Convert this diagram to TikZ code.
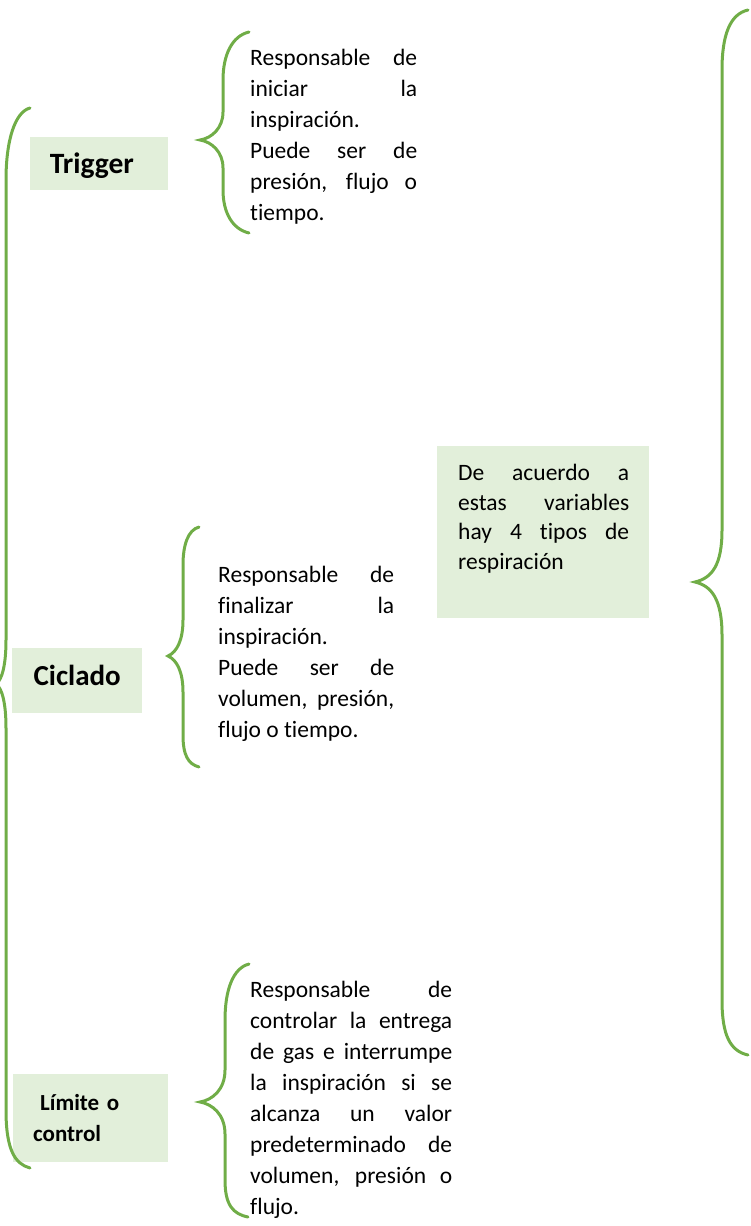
\documentclass[tikz,border=0pt]{standalone}
\usepackage{fontspec}
\setmainfont{Carlito}[Ligatures=NoCommon]
\usepackage{xcolor}
\usepackage{tikz}
\usetikzlibrary{positioning}

\definecolor{bracegreen}{HTML}{70AD47}
\definecolor{boxgreen}{HTML}{E2EFDA}
\setlength{\parindent}{0pt}

\begin{document}
\begin{tikzpicture}[
    x=1pt, y=-1pt,
    curly/.style={draw=bracegreen, line width=3pt, line cap=round},
    label/.style={fill=boxgreen, inner sep=0pt, font=\bfseries},
    desc/.style={inner sep=0pt, align=justify, font=\fontsize{23.5}{31}\selectfont},
    notebg/.style={fill=boxgreen, inner sep=0pt, anchor=north west}
]
\useasboundingbox (0,0) rectangle (751,1226);

% Variables
\node[label, minimum width=138pt, minimum height=53pt, anchor=north west,
      text height=20pt, text depth=1pt,
      font=\bfseries\fontsize{29.5}{31}\selectfont] (trigger) at (30,137) {Trigger\rule{14.6pt}{0pt}};
\node[label, minimum width=130pt, minimum height=65pt, anchor=north west,
      text height=14pt, text depth=5pt,
      font=\bfseries\fontsize{29}{31}\selectfont] (ciclado) at (12,648) {Ciclado};
\node[label, minimum width=155pt, minimum height=88pt, anchor=north west, inner xsep=20pt,
      text width=115pt, align=left,
      font=\bfseries\fontsize{23}{31}\selectfont] (limite) at (13,1074) {\hspace*{7pt}Límite o\\control};

% Descriptions
\node[desc, text width=167pt, anchor=north west] (trigdesc) at (250,49)
  {Responsable de\linebreak iniciar la\linebreak inspiración.\par
   Puede ser de\linebreak presión, flujo o\linebreak tiempo.};
\node[desc, text width=176pt, anchor=north west] (cicldesc) at (218,566)
  {Responsable de\linebreak finalizar la\linebreak inspiración.\par
   Puede ser de\linebreak volumen, presión,\linebreak flujo o tiempo.};
\node[desc, text width=202pt, anchor=north west] (limdesc) at (250,981)
  {Responsable de\linebreak controlar la entrega\linebreak de gas e interrumpe\linebreak
   la inspiración si se\linebreak alcanza un valor\linebreak predeterminado de\linebreak
   volumen, presión o\linebreak flujo.};

% Note box
\node[notebg, minimum width=212pt, minimum height=172pt] (notebox) at (437,446) {};
\node[desc, text width=171pt, anchor=north west, font=\fontsize{23.5}{29.5}\selectfont] (note) at (458,464)
  {De acuerdo a\linebreak estas variables\linebreak hay 4 tipos de\linebreak respiración};

% Braces
\draw[curly] (30,108) .. controls (15,112) and (6,140) .. (6,180) -- (6,640)
  .. controls (6,665) and (2,680) .. (-4,684) .. controls (2,688) and (6,703) .. (6,728)
  -- (6,1110) .. controls (6,1150) and (15,1164) .. (30,1168);
\draw[curly] (249,32) .. controls (232,36) and (223,55) .. (223,80) -- (223,112)
  .. controls (223,128) and (212,138) .. (200,140) .. controls (212,142) and (223,152) .. (223,168)
  -- (223,190) .. controls (223,212) and (232,229) .. (249,233);
\draw[curly] (199,527) .. controls (188,530) and (183,545) .. (183,565) -- (183,620)
  .. controls (183,640) and (177,652) .. (168,656) .. controls (177,660) and (183,672) .. (183,692)
  -- (183,735) .. controls (183,755) and (188,764) .. (199,767);
\draw[curly] (249,964) .. controls (233,968) and (225,990) .. (225,1020) -- (225,1070)
  .. controls (225,1090) and (212,1100) .. (200,1102) .. controls (212,1104) and (225,1114) .. (225,1134)
  -- (225,1180) .. controls (225,1205) and (233,1214) .. (248,1217);
\draw[curly] (748,10) .. controls (730,14) and (722,35) .. (722,70) -- (722,530)
  .. controls (722,565) and (712,578) .. (695,582) .. controls (712,586) and (722,600) .. (722,635)
  -- (722,1000) .. controls (722,1035) and (730,1051) .. (748,1055);

\end{tikzpicture}
\end{document}
